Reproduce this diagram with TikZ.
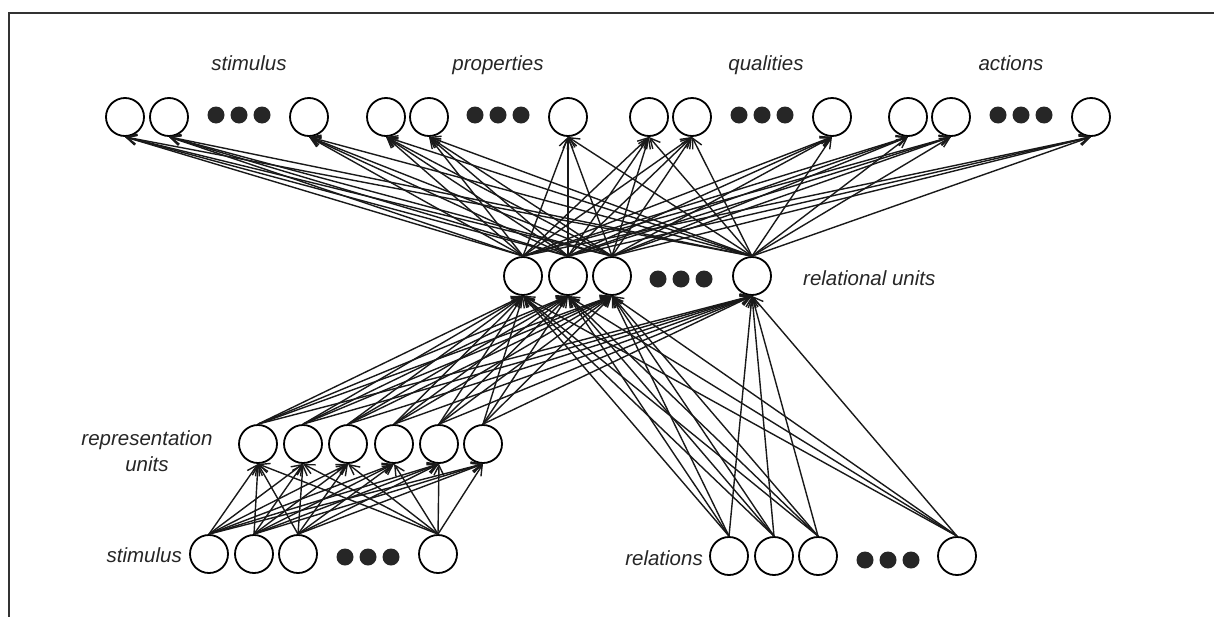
\documentclass[tikz,border=0pt]{standalone}
\usepackage{fontspec}
\setmainfont{Liberation Sans}
\usetikzlibrary{arrows.meta}
\begin{document}
\begin{tikzpicture}[x=1pt,y=-1pt,
  unit/.style={circle,draw,line width=1.8pt,minimum size=38pt,inner sep=0pt},
  dot/.style={circle,fill=black!85,minimum size=17pt,inner sep=0pt},
  lbl/.style={font=\fontsize{20.5}{25}\selectfont\itshape,inner sep=0pt,text=black!85},
  link/.style={line width=1.4pt,black!90,-{Straight Barb[length=10pt,width=10pt]}},
  frame/.style={line width=1.8pt,black!80}]
\useasboundingbox (0,0) rectangle (1214,616);

% outer frame (only the top and left sides fall inside the page)
\coordinate (fa) at (9,620);
\coordinate (fb) at (9,13);
\coordinate (fc) at (1220,13);
\draw[frame] (fa) -- (fb) -- (fc);

% output layer: stimulus, properties, qualities, actions
\foreach \i/\x in {1/125,2/169,3/309,4/386,5/429,6/568,7/649,8/692,9/832,10/908,11/951,12/1091}
  \node[unit] (t\i) at (\x,117) {};
\foreach \g/\x in {a/216,b/475,c/739,d/998}
  \foreach \k in {0,1,2}
    \node[dot] (td\g\k) at (\x+23*\k,115) {};

% relational units
\foreach \i/\x in {1/523,2/568,3/612,4/752}
  \node[unit] (r\i) at (\x,276) {};
\foreach \k in {0,1,2}
  \node[dot] (rd\k) at (658+23*\k,279) {};

% representation units
\foreach \i/\x in {1/258,2/303,3/348,4/394,5/439,6/483}
  \node[unit] (p\i) at (\x,444) {};

% stimulus input
\foreach \i/\x in {1/209,2/254,3/298,4/438}
  \node[unit] (s\i) at (\x,554) {};
\foreach \k in {0,1,2}
  \node[dot] (sd\k) at (345+23*\k,557) {};

% relation input
\foreach \i/\x in {1/729,2/774,3/818,4/957}
  \node[unit] (q\i) at (\x,556) {};
\foreach \k in {0,1,2}
  \node[dot] (qd\k) at (865+23*\k,560) {};

% labels
\node[lbl,anchor=base] (lstim) at (249,70) {stimulus};
\node[lbl,anchor=base] (lprop) at (498,70) {properties};
\node[lbl,anchor=base] (lqual) at (766,70) {qualities};
\node[lbl,anchor=base] (lact) at (1011,70) {actions};
\node[lbl,anchor=base west] (lrel) at (803,285) {relational units};
\node[lbl,anchor=base] (lrep1) at (147,445) {representation};
\node[lbl,anchor=base] (lrep2) at (147,471) {units};
\node[lbl,anchor=base east] (lsin) at (182,562) {stimulus};
\node[lbl,anchor=base east] (lrin) at (703,565) {relations};

% connections
\foreach \a in {1,...,4}
  \foreach \b in {1,...,6}
    \draw[link] (s\a.north) -- (p\b.south);
\foreach \a in {1,...,6}
  \foreach \b in {1,...,4}
    \draw[link] (p\a.north) -- (r\b.south);
\foreach \a in {1,...,4}
  \foreach \b in {1,...,4}
    \draw[link] (q\a.north) -- (r\b.south);
\foreach \a in {1,...,4}
  \foreach \b in {1,...,12}
    \draw[link] (r\a.north) -- (t\b.south);
\end{tikzpicture}
\end{document}
